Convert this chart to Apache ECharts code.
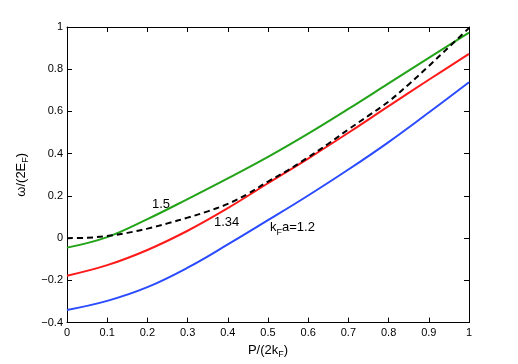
<!DOCTYPE html>
<html><head><meta charset="utf-8">
<script src="https://cdn.jsdelivr.net/npm/echarts@6/dist/echarts.min.js"></script>
<style>html,body{margin:0;padding:0;background:#fff}#c{width:518px;height:364px}</style>
</head><body><div id="c"></div>
<script>
// momentum P/(2kF)
const P = [0, 0.1, 0.2, 0.3, 0.4, 0.5, 0.6, 0.7, 0.8, 0.9, 1.0];
// kF a = 1.5 (green)
const green15 = [-0.045, 0.005, 0.09, 0.185, 0.283, 0.385, 0.495, 0.612, 0.733, 0.854, 0.973];
// kF a = 1.34 (red)
const red134 = [-0.178, -0.128, -0.056, 0.035, 0.142, 0.26, 0.377, 0.499, 0.625, 0.75, 0.873];
// kF a = 1.2 (blue)
const blue12 = [-0.34, -0.297, -0.232, -0.14, -0.03, 0.085, 0.202, 0.325, 0.455, 0.595, 0.738];
// dashed black curve
const Pdash = [0, 0.05, 0.1, 0.15, 0.2, 0.25, 0.3, 0.35, 0.4, 0.45, 0.5, 0.55, 0.6, 0.65, 0.7, 0.75, 0.8, 0.85, 0.9, 0.95, 1.0];
const dashed = [0.0, 0.002, 0.01, 0.025, 0.045, 0.07, 0.097, 0.127, 0.162, 0.21, 0.268, 0.322, 0.383, 0.447, 0.515, 0.58, 0.647, 0.728, 0.815, 0.905, 0.995];
// tick labels
const xTickLabels = ['0', '0.1', '0.2', '0.3', '0.4', '0.5', '0.6', '0.7', '0.8', '0.9', '1'];
const yTickLabels = ['\u22120.4', '\u22120.2', '0', '0.2', '0.4', '0.6', '0.8', '1'];
// curve annotations [text, P, omega, align]
const annotations = [
  ['{n|1.5}', 0.234, 0.161, 'center'],
  ['{n|1.34}', 0.397, 0.076, 'center'],
  ['{n|k}{s|F}{n|a=1.2}', 0.505, 0.05, 'left']
];

const FONT = 'Liberation Sans, Arial, Helvetica, sans-serif';
const rich = {
  n: { fontSize: 13, fontFamily: FONT, color: '#000' },
  s: { fontSize: 9, fontFamily: FONT, color: '#000', padding: [9, 0, 0, 0] }
};
const pairs = (xs, ys) => xs.map((x, i) => [x, ys[i]]);

const chart = echarts.init(document.getElementById('c'));
const axisBase = {
  type: 'value',
  axisLine: { show: true, onZero: false, lineStyle: { color: '#000', width: 1 } },
  axisTick: { show: true, inside: true, length: 5, lineStyle: { color: '#000', width: 1 } },
  splitLine: { show: false }
};
chart.setOption({
  animation: false,
  backgroundColor: '#fff',
  grid: { left: 67, right: 49, top: 27, bottom: 40, containLabel: false },
  xAxis: [
    Object.assign({}, axisBase, {
      position: 'bottom', min: 0, max: 1, interval: 0.1,
      axisLabel: { color: '#000', fontSize: 11, fontFamily: FONT, margin: 5,
        formatter: (v) => xTickLabels[Math.round(v * 10)] },
      name: '{n|P/(2k}{s|F}{n|)}', nameLocation: 'middle', nameGap: 18,
      nameTextStyle: { rich: rich }
    }),
    Object.assign({}, axisBase, {
      position: 'top', min: 0, max: 1, interval: 0.1, axisLabel: { show: false }
    })
  ],
  yAxis: [
    Object.assign({}, axisBase, {
      position: 'left', min: -0.4, max: 1, interval: 0.2,
      axisLabel: { color: '#000', fontSize: 11, fontFamily: FONT, margin: 4,
        formatter: (v) => yTickLabels[Math.round((v + 0.4) * 5)] },
      name: '{n|\u03c9/(2E}{s|F}{n|)}', nameLocation: 'middle', nameGap: 30,
      nameTextStyle: { rich: rich }
    }),
    Object.assign({}, axisBase, {
      position: 'right', min: -0.4, max: 1, interval: 0.2, axisLabel: { show: false }
    })
  ],
  series: [
    { type: 'line', data: pairs(P, green15), smooth: 0.4, showSymbol: false,
      lineStyle: { color: '#22a318', width: 2 } },
    { type: 'line', data: pairs(P, red134), smooth: 0.4, showSymbol: false,
      lineStyle: { color: '#ff1a1a', width: 2 } },
    { type: 'line', data: pairs(P, blue12), smooth: 0.4, showSymbol: false,
      lineStyle: { color: '#2a4bff', width: 2 } },
    { type: 'line', data: pairs(Pdash, dashed), smooth: 0.4, showSymbol: false,
      lineStyle: { color: '#000', width: 2, type: [6, 4] } }
  ]
});

const graphics = annotations.map(([t, x, y, align]) => {
  const p = chart.convertToPixel({ xAxisIndex: 0, yAxisIndex: 0 }, [x, y]);
  return { type: 'text', x: p[0], y: p[1],
    style: { text: t, rich: rich, align: align, verticalAlign: 'middle' } };
});
chart.setOption({ graphic: graphics });
</script></body></html>
